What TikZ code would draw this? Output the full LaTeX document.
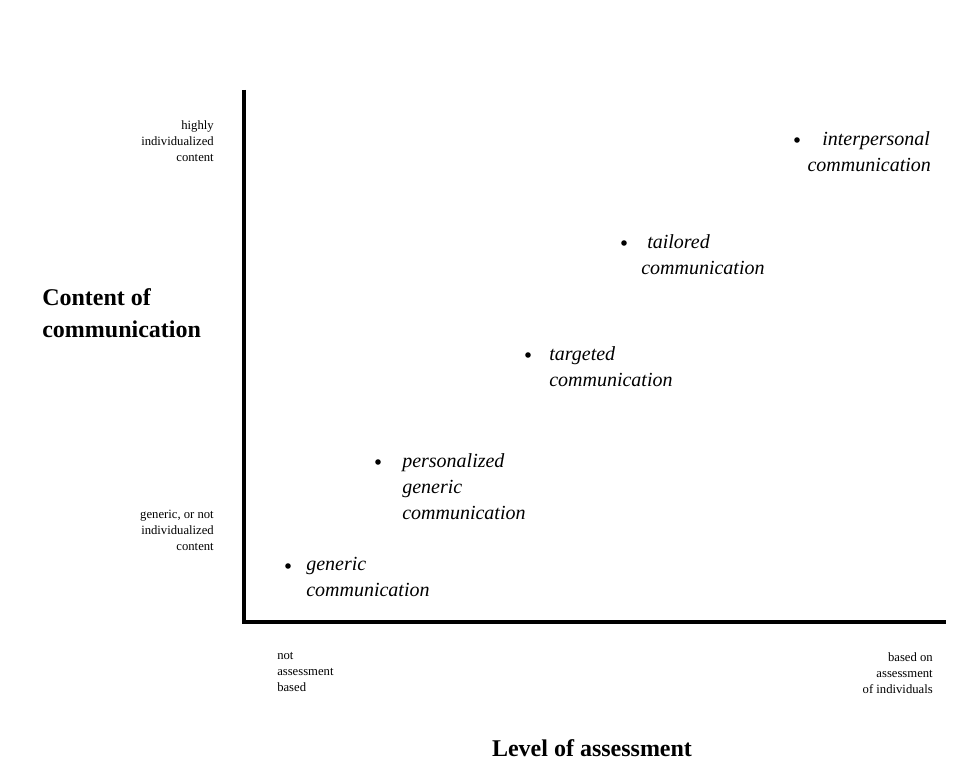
\documentclass[tikz,border=0pt]{standalone}
\usepackage{fontspec}
\setmainfont{Liberation Serif}
\begin{document}
\begin{tikzpicture}[x=0.75pt,y=-0.75pt,
  axis/.style={line width=2.6pt},
  small/.style={font=\fontsize{9.5}{12}\selectfont, inner sep=0pt},
  titlelbl/.style={font=\fontsize{18}{24}\selectfont\bfseries, inner sep=0pt},
  item/.style={font=\fontsize{15}{19.5}\selectfont\itshape, inner sep=0pt, align=left, anchor=north west},
  dot/.style={circle, fill, inner sep=0pt, minimum size=4.2pt}]
\useasboundingbox (0,0) rectangle (957,781);
% axes
\coordinate (top) at (244,90);
\coordinate (origin) at (244,622);
\coordinate (xend) at (946,622);
\draw[axis] (top) -- (origin) -- (xend);
% y-axis end labels
\node[small, align=right, anchor=north east] (yhigh) at (214,120) {highly\\individualized\\content};
\node[small, align=right, anchor=north east] (ylow) at (214,510) {generic, or not\\individualized\\content};
% x-axis end labels
\node[small, align=left, anchor=north west] (xlow) at (277,652) {not\\assessment\\based};
\node[small, align=right, anchor=north east] (xhigh) at (933,652) {based on\\assessment\\of individuals};
% axis titles
\node[titlelbl, align=left, anchor=north west] (ytitle) at (42,288) {Content of\\communication};
\node[titlelbl, anchor=center] (xtitle) at (592,748) {Level of assessment};
% items
\node[dot] (d1) at (288,566) {};
\node[item] (t1) at (306,557) {generic\\communication};
\node[dot] (d2) at (378,462) {};
\node[item] (t2) at (402,453) {personalized\\generic\\communication};
\node[dot] (d3) at (528,355) {};
\node[item] (t3) at (549,346) {targeted\\communication};
\node[dot] (d4) at (624,243) {};
\node[item] (t4) at (647,234) {tailored\\\hspace*{-4.5pt}communication};
\node[dot] (d5) at (797,140) {};
\node[item] (t5) at (822,131) {interpersonal\\\hspace*{-11pt}communication};
\end{tikzpicture}
\end{document}
